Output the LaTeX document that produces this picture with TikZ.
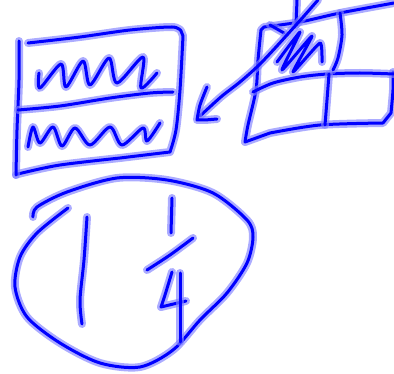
\documentclass[tikz,border=0pt]{standalone}
\begin{document}
\begin{tikzpicture}[x=1pt,y=-1pt,
  ink/.style={preaction={draw,line width=8pt,blue!50,opacity=0.65,line cap=round,line join=round},
    draw=blue,line width=3pt,line cap=round,line join=round},
  sm/.style={smooth,tension=0.5}]
\useasboundingbox (0,0) rectangle (394,374);
% left box
\draw[ink] plot[sm] coordinates {(28,43)(80,37)(130,30)(172,27)(181,31)}
  -- plot[sm] coordinates {(183,36)(180,90)(176,130)(170,152)}
  -- plot[sm] coordinates {(120,158)(60,165)(22,173)(16,175)};
\draw[ink] plot[sm] coordinates {(16,175)(17,130)(19,80)(19,41)};
\draw[ink] plot[sm] coordinates {(18,110)(60,106)(110,98)(150,93)(173,92)};
\draw[ink] plot[smooth,tension=0.5] coordinates {(39,73)(40,88)(61,64)(66,87)(83,61)(90,85)(109,58)(117,83)(143,57)(141,88)(157,73)};
\draw[ink] plot[smooth,tension=0.5] coordinates {(28,147)(33,127)(40,143)(53,127)(62,146)(75,128)(90,145)(110,127)(122,145)(143,128)(147,141)(160,123)};
% grid
\draw[ink] plot[sm] coordinates {(394,3)(340,13)(300,22)(264,27)}
  -- plot[sm] coordinates {(261,30)(258,60)(256,90)(248,125)(245,142)}
  -- plot[sm] coordinates {(270,133)(320,125)(383,123)}
  -- plot[sm] coordinates {(391,113)(393,90)(393,72)};
\draw[ink] plot[sm] coordinates {(253,92)(273,83)(300,77)(327,74)(360,73)(394,74)};
\draw[ink] plot[sm] coordinates {(340,13)(342,35)(338,58)(333,70)};
\draw[ink] plot[sm] coordinates {(329,74)(327,100)(325,125)};
\draw[ink] plot[sm] coordinates {(270,25)(284,33)};
\draw[ink] plot[sm] coordinates {(297,0)(296,25)};
\draw[ink] plot[smooth,tension=0.3] coordinates {(277,62)(300,32)(282,70)(312,36)(293,72)(320,43)(322,62)};
% arrow
\draw[ink] plot[sm] coordinates {(318,0)(296,25)(262,62)(240,82)(222,96)(200,116)};
\draw[ink] plot[sm] coordinates {(207,87)(200,105)(197,120)} -- plot[sm] coordinates {(205,120)(217,119)};
% loop
\draw[ink] plot[sm] coordinates {(33,217)(37,207)(67,192)(117,178)(167,180)(213,193)(247,220)(253,237)(247,263)(227,293)(200,320)(173,350)(140,367)(100,363)(60,343)(27,317)(15,287)(20,257)(37,233)(68,208)};
% 1 1/4
\draw[ink] plot[sm] coordinates {(87,217)(84,260)(80,300)(82,324)};
\draw[ink] plot[sm] coordinates {(172,198)(171,233)};
\draw[ink] plot[sm] coordinates {(193,238)(170,255)(147,270)};
\draw[ink] plot[sm] coordinates {(172,272)(165,295)(161,307)} -- (186,301);
\draw[ink] plot[sm] coordinates {(180,273)(180,310)(180,342)};
\end{tikzpicture}
\end{document}
